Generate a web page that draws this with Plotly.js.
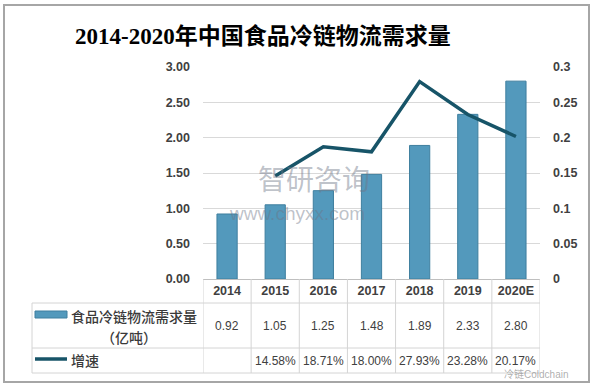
<!DOCTYPE html>
<html>
<head>
<meta charset="utf-8">
<script src="https://cdn.plot.ly/plotly-3.0.1.min.js"></script>
<style>
  html, body { margin: 0; padding: 0; background: #fff; }
  #wrap { position: relative; width: 593px; height: 386px; }
  #frame { position: absolute; left: 3px; top: 4px; width: 583px; height: 375px; border: 2px solid #a6a6a6; pointer-events: none; z-index: 5; }
  #chart { position: absolute; left: 0; top: 0; width: 593px; height: 386px; }
</style>
</head>
<body>
<div id="wrap"><div id="chart"></div><div id="frame"></div></div>
<script>
// ---- data ----
const years = ["2014", "2015", "2016", "2017", "2018", "2019", "2020E"];
const demand = [0.92, 1.05, 1.25, 1.48, 1.89, 2.33, 2.80];          // 亿吨
const growthPct = [null, 14.58, 18.71, 18.00, 27.93, 23.28, 20.17]; // %
const seriesBarName = "食品冷链物流需求量";
const seriesBarUnit = "（亿吨）";
const seriesLineName = "增速";
const titleText = "2014-2020年中国食品冷链物流需求量";

// ---- geometry helpers (pixel -> paper) ----
const W = 593, H = 386;
const L = 203, R = 540, T = 67, B = 279;
const px = x => (x - L) / (R - L);
const py = y => (B - y) / (B - T);

const textColor = "#404040";
const gridColor = "#d9d9d9";
const tableColor = "#d4d4d4";
const barFill = "#5399bc";
const barLine = "#3f7f9f";
const lineColor = "#175468";

const growth = growthPct.map(v => v == null ? null : v / 100);

const traces = [
  {
    type: "bar", x: years, y: demand, name: seriesBarName,
    width: 0.42,
    marker: { color: barFill, line: { color: barLine, width: 1 } },
    hoverinfo: "skip"
  },
  {
    type: "scatter", mode: "lines", x: years, y: growth, yaxis: "y2",
    name: seriesLineName, line: { color: lineColor, width: 3.5 },
    connectgaps: false, hoverinfo: "skip"
  }
];

const shapes = [];
const annotations = [];

// table grid: vertical boundaries between categories
for (let i = 0; i <= years.length; i++) {
  shapes.push({ type: "line", xref: "x", yref: "paper", x0: i - 0.5, x1: i - 0.5,
    y0: py(279), y1: py(373), line: { color: tableColor, width: 1 } });
}
// horizontal rows
[303, 348, 373].forEach(yy => {
  shapes.push({ type: "line", xref: "paper", yref: "paper", x0: px(32), x1: 1,
    y0: py(yy), y1: py(yy), line: { color: tableColor, width: 1 } });
});
// left edge of legend column
shapes.push({ type: "line", xref: "paper", yref: "paper", x0: px(32), x1: px(32),
  y0: py(303), y1: py(373), line: { color: tableColor, width: 1 } });

// legend keys
shapes.push({ type: "rect", xref: "paper", yref: "paper", x0: px(35), x1: px(67),
  y0: py(318), y1: py(311), fillcolor: barFill, line: { color: barLine, width: 1 } });
shapes.push({ type: "line", xref: "paper", yref: "paper", x0: px(35), x1: px(67),
  y0: py(359), y1: py(359), line: { color: lineColor, width: 3.5 } });

// table row text (category index positions on the x axis)
const cellFont = { family: "Liberation Sans, Arial, sans-serif", size: 12, color: textColor };
years.forEach((yr, i) => {
  annotations.push({ xref: "x", yref: "paper", x: i, y: py(325.5), text: demand[i].toFixed(2),
    showarrow: false, xanchor: "center", yanchor: "middle", font: cellFont });
  if (growthPct[i] != null) {
    annotations.push({ xref: "x", yref: "paper", x: i, y: py(360.5), text: growthPct[i].toFixed(2) + "%",
      showarrow: false, xanchor: "center", yanchor: "middle", font: cellFont });
  }
});

// legend labels
const cjkFont = { family: "Noto Sans CJK SC, sans-serif", size: 14, color: "#3a3a3a", weight: 500 };
annotations.push({ xref: "paper", yref: "paper", x: px(69), y: py(316), text: seriesBarName,
  showarrow: false, xanchor: "left", yanchor: "middle", font: cjkFont });
annotations.push({ xref: "paper", yref: "paper", x: px(129), y: py(337), text: seriesBarUnit,
  showarrow: false, xanchor: "center", yanchor: "middle", font: cjkFont });
annotations.push({ xref: "paper", yref: "paper", x: px(69), y: py(360), text: seriesLineName,
  showarrow: false, xanchor: "left", yanchor: "middle", font: cjkFont });

// title
annotations.push({ xref: "paper", yref: "paper", x: px(263), y: py(36), text: titleText,
  showarrow: false, xanchor: "center", yanchor: "middle",
  font: { family: "Liberation Serif, Noto Sans CJK SC, serif", size: 23, color: "#000", weight: "bold" } });

// watermarks
annotations.push({ xref: "paper", yref: "paper", x: px(314), y: py(178), text: "智研咨询",
  showarrow: false, xanchor: "center", yanchor: "middle",
  font: { family: "Noto Sans CJK SC, sans-serif", size: 28, color: "rgba(110,118,135,0.45)" } });
annotations.push({ xref: "paper", yref: "paper", x: px(297), y: py(213), text: "www.chyxx.com",
  showarrow: false, xanchor: "center", yanchor: "middle",
  font: { family: "Liberation Sans, Arial, sans-serif", size: 19, color: "rgba(110,118,135,0.45)" } });
annotations.push({ xref: "paper", yref: "paper", x: px(536), y: py(374), text: "冷链Coldchain",
  showarrow: false, xanchor: "center", yanchor: "middle",
  font: { family: "Liberation Sans, Noto Sans CJK SC, sans-serif", size: 10, color: "rgba(120,120,120,0.6)" } });

const tickFont = { family: "Liberation Sans, Arial, sans-serif", size: 12.5, color: textColor, weight: "bold" };

const layout = {
  width: W, height: H,
  margin: { l: L, r: W - R, t: T, b: H - B },
  paper_bgcolor: "rgba(0,0,0,0)", plot_bgcolor: "rgba(0,0,0,0)",
  showlegend: false,
  bargap: 0.58,
  xaxis: {
    type: "category", range: [-0.5, years.length - 0.5], showgrid: false,
    showline: true, linecolor: "#bfbfbf", linewidth: 1, ticks: "",
    tickfont: tickFont, fixedrange: true
  },
  yaxis: {
    range: [0, 3], dtick: 0.5, tickformat: ".2f", showgrid: true, gridcolor: gridColor,
    zeroline: false, showline: false, ticks: "", tickfont: tickFont, ticklabelstandoff: 12
  },
  yaxis2: {
    overlaying: "y", side: "right", range: [0, 0.3], dtick: 0.05, showgrid: false,
    zeroline: false, showline: false, ticks: "", tickfont: tickFont, ticklabelstandoff: 12
  },
  shapes: shapes,
  annotations: annotations
};

Plotly.newPlot("chart", traces, layout, { staticPlot: true, displayModeBar: false });
</script>
</body>
</html>
